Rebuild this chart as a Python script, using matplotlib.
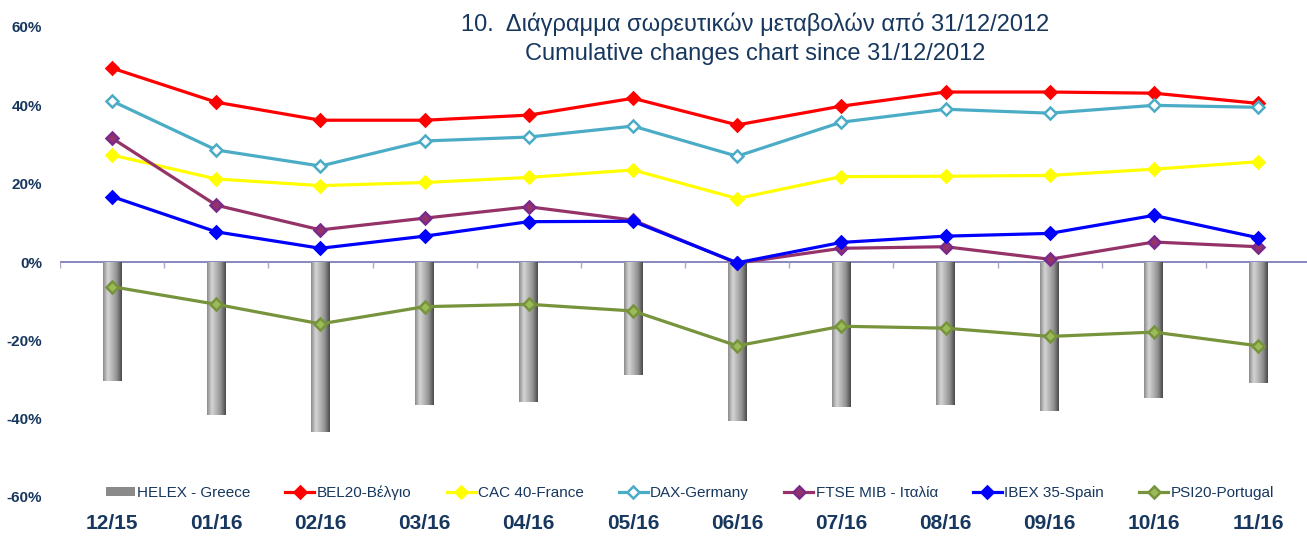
import numpy as np
import matplotlib.pyplot as plt
from matplotlib.colors import LinearSegmentedColormap

months = ["12/15", "01/16", "02/16", "03/16", "04/16", "05/16",
          "06/16", "07/16", "08/16", "09/16", "10/16", "11/16"]

helex = [-30.4, -39.0, -43.3, -36.5, -35.7, -28.8, -40.6, -37.0, -36.5, -38.0, -34.7, -30.9]
bel20 = [49.5, 40.8, 36.2, 36.2, 37.5, 41.8, 35.0, 39.8, 43.4, 43.4, 43.1, 40.5]
cac40 = [27.3, 21.2, 19.5, 20.3, 21.6, 23.5, 16.2, 21.8, 21.9, 22.1, 23.7, 25.6]
dax = [41.1, 28.6, 24.5, 30.9, 31.9, 34.7, 27.0, 35.7, 39.0, 38.0, 40.0, 39.5]
ftse = [31.6, 14.5, 8.2, 11.2, 14.1, 10.7, -0.3, 3.5, 3.9, 0.7, 5.1, 3.9]
ibex = [16.7, 7.7, 3.5, 6.6, 10.3, 10.4, -0.2, 5.0, 6.6, 7.3, 11.9, 6.2]
psi20 = [-6.3, -10.8, -15.8, -11.4, -10.8, -12.5, -21.4, -16.4, -16.9, -19.0, -17.9, -21.4]

navy = "#17375E"
plt.rcParams["font.family"] = ["Liberation Sans", "DejaVu Sans"]

fig = plt.figure(figsize=(13.07, 5.38), dpi=100)
ax = fig.add_axes([60 / 1307, 41 / 538, 1247 / 1307, 470 / 538])

x = np.arange(len(months))

# cylinder-like bars
bars = ax.bar(x, helex, width=0.18, color="#8a8a8a", zorder=2, label="HELEX - Greece")
cyl = LinearSegmentedColormap.from_list("cyl", ["#8c8c8c", "#d4d4d4", "#b4b4b4", "#8e8e8e", "#4a4a4a"])
grad = np.linspace(0, 1, 64).reshape(1, -1)
for b in bars:
    x0, y0 = b.get_x(), b.get_y()
    w, h = b.get_width(), b.get_height()
    im = ax.imshow(grad, extent=[x0, x0 + w, y0 + h, y0], aspect="auto", cmap=cyl, zorder=2.1)
    im.set_clip_path(b)

series = [
    (bel20, "BEL20-Βέλγιο", "#FF0000", "#FF0000", "#FF0000"),
    (cac40, "CAC 40-France", "#FFFF00", "#FFFF00", "#FFFF00"),
    (dax, "DAX-Germany", "#4BACC6", "white", "#4BACC6"),
    (ftse, "FTSE MIB - Ιταλία", "#953368", "#953368", "#7A2A8A"),
    (ibex, "IBEX 35-Spain", "#0000FF", "#0000FF", "#0000FF"),
    (psi20, "PSI20-Portugal", "#77933C", "#9BBB59", "#77933C"),
]
handles = [bars]
for vals, lab, col, fc, ec in series:
    ln, = ax.plot(x, vals, color=col, lw=2.3, marker="D", ms=6.5, mfc=fc, mec=ec, mew=1.8,
                  label=lab, zorder=3)
    handles.append(ln)

ax.axhline(0, color="#7373B3", lw=1.2, zorder=1.5)
ax.vlines(np.arange(len(months) + 1) - 0.5, -1.6, 0, color="#A8A8CC", lw=1, zorder=1.5)

ax.set_xlim(-0.5, 11.47)
ax.set_ylim(-60, 60)
ax.set_yticks([-60, -40, -20, 0, 20, 40, 60])
ax.set_yticklabels(["%d%%" % v for v in [-60, -40, -20, 0, 20, 40, 60]])
ax.set_xticks(x)
ax.set_xticklabels(months)
ax.tick_params(axis="y", length=0, pad=13, labelsize=11, labelcolor=navy)
ax.tick_params(axis="x", length=0, pad=12, labelsize=15, labelcolor=navy)
for t in ax.get_xticklabels():
    t.set_fontweight("bold")
for t in ax.get_yticklabels():
    t.set_fontweight("bold")
for s in ax.spines.values():
    s.set_visible(False)

leg = ax.legend(handles=handles, labels=[h.get_label() for h in handles],
                loc="center", bbox_to_anchor=(0.505, 0.009), ncol=7, frameon=False,
                fontsize=11, handlelength=1.9, handletextpad=0.15, columnspacing=2.3,
                handleheight=0.6)
for t in leg.get_texts():
    t.set_color(navy)

fig.text(0.578, 0.928, "10.  Διάγραμμα σωρευτικών μεταβολών από 31/12/2012\nCumulative changes chart since 31/12/2012",
         ha="center", va="center", fontsize=17, color=navy, linespacing=1.4)

fig.savefig("out.png", dpi=100)
